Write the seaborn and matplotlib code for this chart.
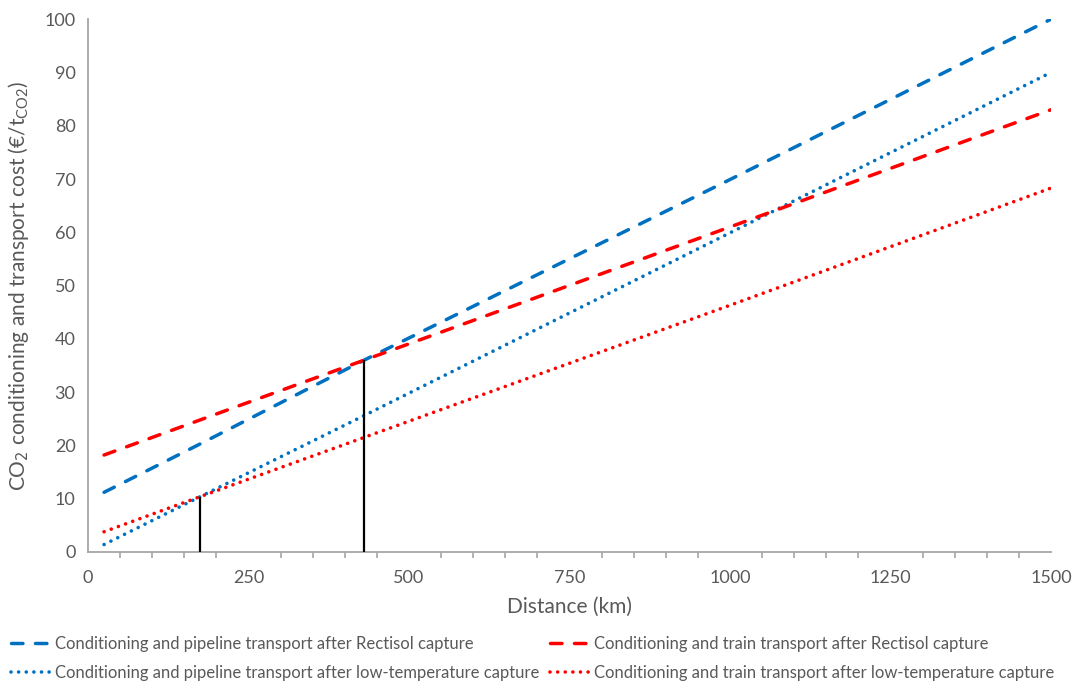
import matplotlib
matplotlib.use("Agg")
import matplotlib.pyplot as plt
from matplotlib.lines import Line2D
from matplotlib.ticker import MultipleLocator
import numpy as np
import pandas as pd
import seaborn as sns

# Distance (km) at which costs are read
distance = [25, 175, 430, 1000, 1500]

# Conditioning + transport cost (EUR per tonne CO2)
pipeline_rectisol = [11.2, 20.3, 36.0, 69.9, 100.0]
train_rectisol = [18.2, 24.8, 36.0, 61.0, 83.0]
pipeline_lowtemp = [1.4, 10.4, 25.6, 59.9, 90.0]
train_lowtemp = [3.8, 10.4, 21.5, 46.3, 68.3]

series_names = [
    "Conditioning and pipeline transport after Rectisol capture",
    "Conditioning and pipeline transport after low-temperature capture",
    "Conditioning and train transport after Rectisol capture",
    "Conditioning and train transport after low-temperature capture",
]
series_values = [pipeline_rectisol, pipeline_lowtemp, train_rectisol, train_lowtemp]

# Break-even distances (km) and the cost at which the curves cross
breakeven_km = [175, 430]
breakeven_cost = [10.4, 36.0]

x_ticks = [0, 250, 500, 750, 1000, 1250, 1500]
y_ticks = [0, 10, 20, 30, 40, 50, 60, 70, 80, 90, 100]

BLUE = "#0070C0"
RED = "#FF0000"
DASHED = (3.3, 3.6)
DOTTED = (0.01, 2.1)
palette = {series_names[0]: BLUE, series_names[1]: BLUE,
           series_names[2]: RED, series_names[3]: RED}
dash_styles = {series_names[0]: DASHED, series_names[1]: DOTTED,
               series_names[2]: DASHED, series_names[3]: DOTTED}
widths = {series_names[0]: 2.5, series_names[1]: 2.6,
          series_names[2]: 2.5, series_names[3]: 2.6}

rows = []
for name, vals in zip(series_names, series_values):
    for d, v in zip(distance, vals):
        rows.append({"distance": d, "cost": v, "series": name})
df = pd.DataFrame(rows)

sns.set_theme(style="white")
plt.rcParams["font.family"] = ["Lato", "DejaVu Sans"]

fig = plt.figure(figsize=(10.76, 6.84), dpi=100)
ax = fig.add_axes([0.0818, 0.193, 0.8950, 0.779])

sns.lineplot(data=df, x="distance", y="cost", hue="series", style="series",
             palette=palette, dashes=dash_styles, hue_order=series_names,
             style_order=series_names, legend=False, ax=ax)

for line, name in zip(ax.lines, series_names):
    line.set_linewidth(widths[name])
    line.set_dash_capstyle("round")

# Vertical markers at the break-even distances
for xk, yc in zip(breakeven_km, breakeven_cost):
    ax.plot([xk, xk], [0, yc], color="black", lw=1.6, solid_capstyle="butt", zorder=5)

ax.set_xlim(0, 1500)
ax.set_ylim(0, 100)
ax.set_xticks(x_ticks)
ax.set_yticks(y_ticks)
ax.xaxis.set_minor_locator(MultipleLocator(50))

axis_grey = "#A6A6A6"
text_grey = "#595959"
for side in ["top", "right"]:
    ax.spines[side].set_visible(False)
for side in ["left", "bottom"]:
    ax.spines[side].set_color(axis_grey)
    ax.spines[side].set_linewidth(1.3)

ax.tick_params(axis="both", which="major", direction="out", length=4, width=1.2,
               color=axis_grey, labelcolor=text_grey, labelsize=13)
ax.tick_params(axis="x", which="major", pad=9)
ax.tick_params(axis="y", which="major", pad=5)
ax.tick_params(axis="x", which="minor", direction="out", length=4, width=1.2,
               color=axis_grey, bottom=True)
ax.tick_params(axis="y", which="minor", left=False)

ax.set_xlabel("Distance (km)", fontsize=15, color=text_grey, labelpad=8)
ax.set_ylabel(r"CO$_2$ conditioning and transport cost (€/t$_{\mathregular{CO2}}$)",
              fontsize=15, color=text_grey, labelpad=10)
ax.grid(False)

handles = []
for name in series_names:
    h = Line2D([], [], color=palette[name], lw=widths[name],
               dashes=dash_styles[name], dash_capstyle="round")
    handles.append(h)

fig.legend(handles, series_names, loc="upper left", bbox_to_anchor=(0.004, 0.080),
           ncol=2, frameon=False, fontsize=12, labelcolor=text_grey,
           handlelength=2.35, handletextpad=0.3, columnspacing=0.6,
           labelspacing=0.8, borderaxespad=0.0)

fig.savefig("out.png", dpi=100)
